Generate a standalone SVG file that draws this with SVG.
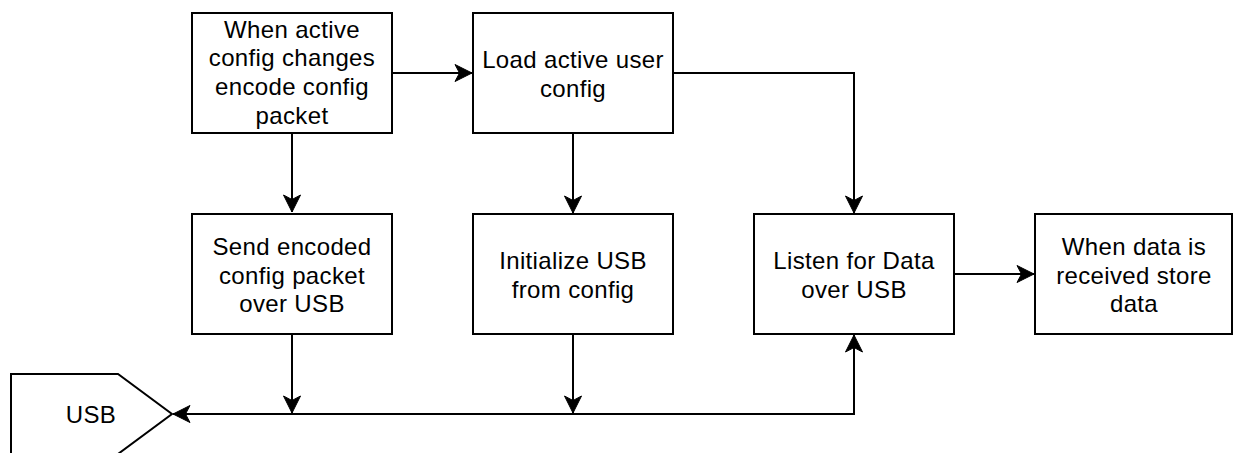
<svg xmlns="http://www.w3.org/2000/svg" width="1233" height="453" viewBox="0 0 1233 453">
  <style>
    .box { fill: #ffffff; stroke: #000000; stroke-width: 2; }
    .lbl { font-family: "Liberation Sans", Arial, Helvetica, sans-serif; font-size: 24px; letter-spacing: 0.35px; fill: #000000; text-anchor: middle; }
    .edge { fill: none; stroke: #000000; stroke-width: 2; }
  </style>
  <defs>
    <marker id="arrow" viewBox="-18 -10 20 20" refX="0" refY="0" markerWidth="20" markerHeight="20" markerUnits="userSpaceOnUse" orient="auto-start-reverse">
      <path d="M0,0 L-17,-8.5 L-12.5,0 L-17,8.5 Z" fill="#000000" stroke="#000000" stroke-width="1"/>
    </marker>
  </defs>

  <rect width="1233" height="453" fill="#ffffff"/>

  <!-- connectors -->
  <g id="connectors">
    <path class="edge" d="M392,73 H472" marker-end="url(#arrow)"/>
    <path class="edge" d="M673,73 H854 V213" marker-end="url(#arrow)"/>
    <path class="edge" d="M292,133 V212" marker-end="url(#arrow)"/>
    <path class="edge" d="M573,133 V213" marker-end="url(#arrow)"/>
    <path class="edge" d="M292,334 V413" marker-end="url(#arrow)"/>
    <path class="edge" d="M573,334 V413" marker-end="url(#arrow)"/>
    <path class="edge" d="M173,414 H854 V335" marker-start="url(#arrow)" marker-end="url(#arrow)"/>
    <path class="edge" d="M955,274 H1034" marker-end="url(#arrow)"/>
  </g>

  <g id="encode-config">
    <rect class="box" x="192" y="13" width="200" height="120"/>
    <text class="lbl" x="292" y="37.5">When active</text>
    <text class="lbl" x="292" y="66.3">config changes</text>
    <text class="lbl" x="292" y="95.1">encode config</text>
    <text class="lbl" x="292" y="123.9">packet</text>
  </g>

  <g id="load-config">
    <rect class="box" x="473" y="13" width="200" height="120"/>
    <text class="lbl" x="573" y="68.2">Load active user</text>
    <text class="lbl" x="573" y="97">config</text>
  </g>

  <g id="send-config">
    <rect class="box" x="192" y="214" width="200" height="120"/>
    <text class="lbl" x="292" y="254.8">Send encoded</text>
    <text class="lbl" x="292" y="283.6">config packet</text>
    <text class="lbl" x="292" y="312.4">over USB</text>
  </g>

  <g id="init-usb">
    <rect class="box" x="473" y="214" width="200" height="120"/>
    <text class="lbl" x="573" y="269">Initialize USB</text>
    <text class="lbl" x="573" y="297.8">from config</text>
  </g>

  <g id="listen-usb">
    <rect class="box" x="754" y="214" width="200" height="120"/>
    <text class="lbl" x="854" y="269">Listen for Data</text>
    <text class="lbl" x="854" y="297.8">over USB</text>
  </g>

  <g id="store-data">
    <rect class="box" x="1035" y="214" width="197" height="120"/>
    <text class="lbl" x="1134" y="254.8">When data is</text>
    <text class="lbl" x="1134" y="283.6">received store</text>
    <text class="lbl" x="1134" y="312.4">data</text>
  </g>

  <g id="usb">
    <path class="box" d="M11,374 H118 L172,414 L118,454 H11 Z"/>
    <text class="lbl" x="91" y="423">USB</text>
  </g>
</svg>
